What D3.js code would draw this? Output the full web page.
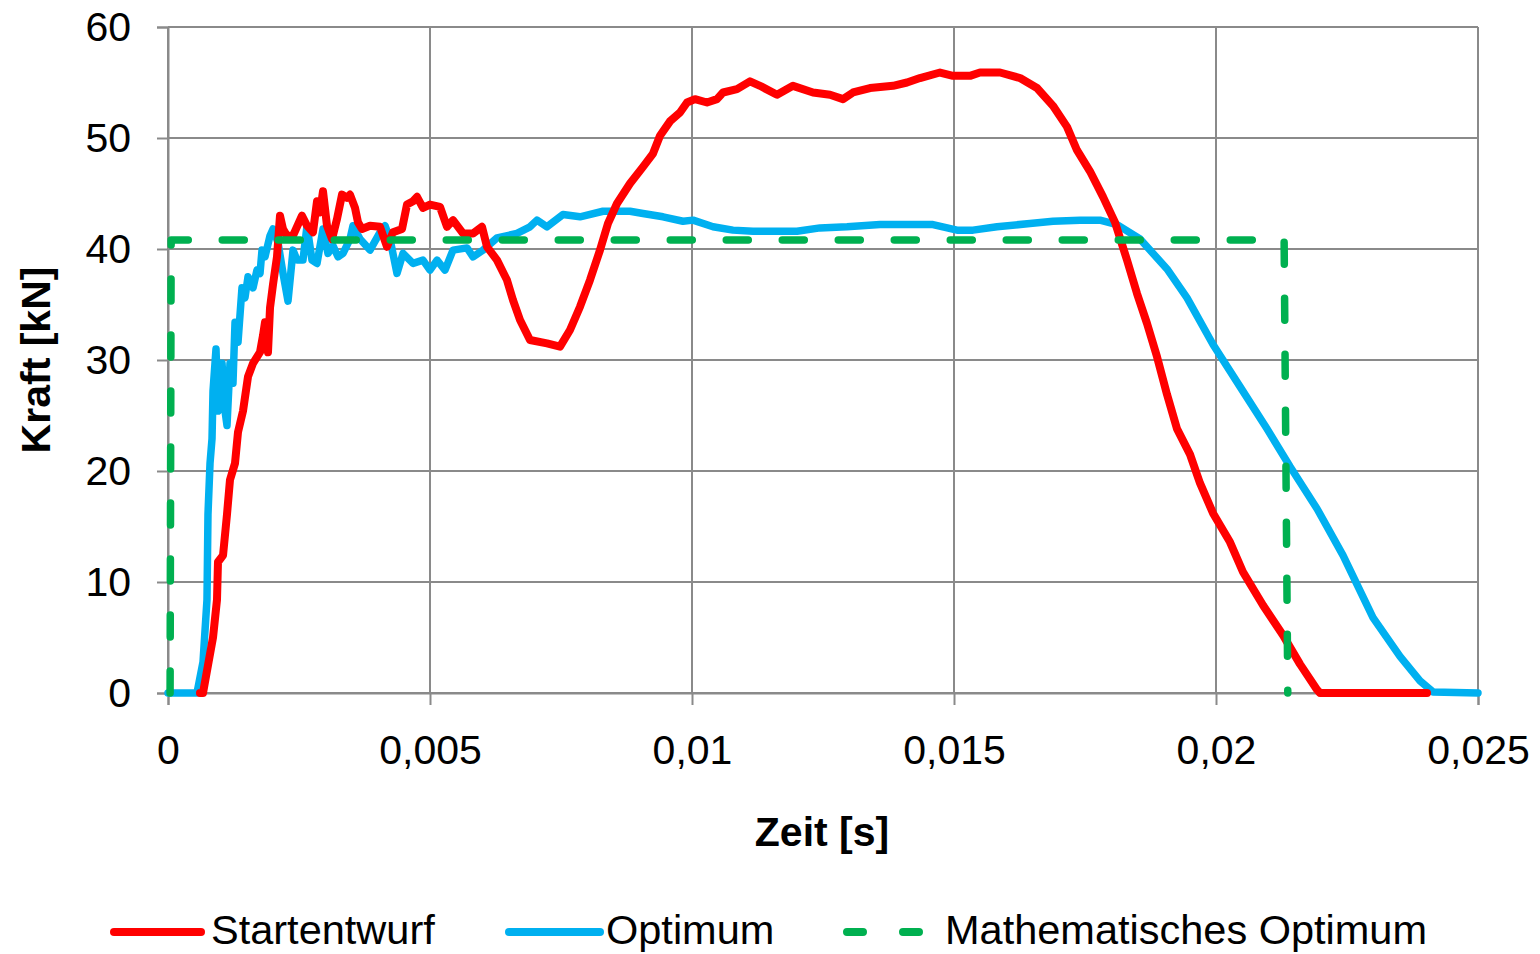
<!DOCTYPE html>
<html><head><meta charset="utf-8">
<script src="https://cdn.jsdelivr.net/npm/d3@7"></script>
<style>body{margin:0;background:#fff}svg{display:block}</style>
</head><body>
<svg id="chart" width="1540" height="954"></svg>
<script>
// ---- data ----
const xTicks = [0, 0.005, 0.01, 0.015, 0.02, 0.025];
const xTickLabels = ["0", "0,005", "0,01", "0,015", "0,02", "0,025"];
const yTicks = [0, 10, 20, 30, 40, 50, 60];
const yTickLabels = ["0", "10", "20", "30", "40", "50", "60"];
const seriesNames = ["Startentwurf", "Optimum", "Mathematisches Optimum"];

const timeStart = [0.00061,0.000668,0.000763,0.000859,0.000935,0.000954,0.00105,0.001126,0.001183,0.001279,0.001336,0.001431,0.001527,0.001622,0.001756,0.001813,0.001851,0.001908,0.001947,0.002004,0.00208,0.002137,0.002195,0.002271,0.002386,0.002557,0.002653,0.002767,0.002844,0.002901,0.002958,0.003034,0.00313,0.003225,0.003321,0.003416,0.003473,0.003569,0.003626,0.003702,0.003855,0.004046,0.004179,0.004294,0.004466,0.004561,0.004676,0.004752,0.004866,0.005,0.005191,0.005324,0.005439,0.00563,0.005821,0.005992,0.006088,0.006279,0.006469,0.006584,0.006718,0.006908,0.007233,0.007481,0.007672,0.007863,0.008053,0.008244,0.008397,0.008569,0.008817,0.009065,0.009256,0.009389,0.00958,0.009771,0.009905,0.010057,0.010286,0.010477,0.010592,0.010859,0.011107,0.011298,0.011622,0.011927,0.012309,0.012634,0.012882,0.013073,0.013397,0.013836,0.014103,0.014351,0.014733,0.014981,0.015305,0.015496,0.015878,0.01626,0.016584,0.016889,0.017157,0.017347,0.017595,0.017844,0.018073,0.018302,0.018492,0.018683,0.018874,0.019065,0.019256,0.019504,0.019695,0.019943,0.020267,0.020515,0.020897,0.021279,0.021603,0.021928,0.021985,0.024027];
const forceStart = [0,0,2.5,5.0,8.4,11.8,12.4,16.1,19.2,20.7,23.5,25.4,28.5,29.7,30.7,32.2,33.4,30.7,34.7,36.8,39.3,43.0,41.8,41.2,41.2,43.0,42.1,41.5,44.3,43.3,45.2,42.1,40.9,42.7,44.9,44.6,44.9,43.7,42.4,41.8,42.1,42.0,40.2,41.5,41.8,44.0,44.3,44.7,43.7,44.0,43.8,42.0,42.6,41.4,41.4,42.0,40.2,39.0,37.2,35.4,33.6,31.8,31.5,31.2,32.7,34.8,37.2,39.9,42.3,44.1,45.9,47.4,48.6,50.2,51.5,52.3,53.2,53.5,53.2,53.5,54.1,54.4,55.1,54.7,53.9,54.7,54.1,53.9,53.5,54.1,54.5,54.7,55.0,55.4,55.9,55.6,55.6,55.9,55.9,55.4,54.5,52.9,51.0,48.9,47.0,44.7,42.4,39.0,36.0,33.3,30.3,26.9,23.8,21.5,18.9,16.2,13.6,10.9,7.9,5.2,2.6,0.3,0,0];

const timeOpt = [0,0.000553,0.000668,0.000744,0.000763,0.000802,0.00084,0.000859,0.000916,0.000954,0.001031,0.001088,0.001126,0.001183,0.00124,0.001279,0.001336,0.001412,0.001469,0.001527,0.001622,0.001698,0.001756,0.001794,0.001851,0.001947,0.002004,0.002099,0.002195,0.00229,0.002386,0.002462,0.002576,0.002653,0.002748,0.002844,0.002958,0.003053,0.003149,0.003244,0.00334,0.003473,0.003531,0.003664,0.003855,0.004046,0.004141,0.004237,0.00437,0.004485,0.004676,0.004866,0.005,0.005134,0.005286,0.005439,0.005706,0.005821,0.006012,0.006279,0.00666,0.006908,0.007042,0.007233,0.007538,0.007863,0.008301,0.008817,0.009065,0.009447,0.009828,0.010019,0.010401,0.010782,0.011164,0.011546,0.012004,0.012443,0.012958,0.013588,0.014103,0.014599,0.015057,0.015363,0.015821,0.01645,0.016889,0.017405,0.017786,0.018111,0.01855,0.019065,0.019447,0.019943,0.020458,0.020973,0.021412,0.021928,0.022424,0.022996,0.023511,0.023893,0.024141,0.025];
const forceOpt = [0,0,2.8,8.4,16.1,20.7,22.9,27.2,31.0,25.4,29.7,25.4,24.1,29.7,27.9,33.4,31.6,36.5,35.6,37.5,36.5,38.1,37.8,39.9,39.3,41.2,41.8,40.6,37.8,35.3,39.9,39.0,39.0,42.1,39.0,38.7,41.8,39.6,40.3,39.3,39.6,40.9,42.1,40.9,39.9,41.5,42.1,40.9,37.8,39.6,38.7,39.0,38.1,39.0,38.1,39.9,40.1,39.3,39.9,41.0,41.4,42.0,42.6,42.0,43.1,42.9,43.4,43.4,43.2,42.9,42.5,42.6,42.0,41.7,41.6,41.6,41.6,41.9,42.0,42.2,42.2,42.2,41.7,41.7,42.0,42.3,42.5,42.6,42.6,42.2,40.9,38.2,35.6,31.4,27.6,23.8,20.4,16.6,12.4,6.8,3.3,1.1,0.1,0];

const timeMath = [0.00004, 0.00006, 0.0213, 0.02137];
const forceMath = [0, 40.8, 40.8, 0];

// ---- chart ----
const svg = d3.select("#chart");
const mLeft = 168, mRight = 1478, mTop = 27, mBottom = 693;
const x = d3.scaleLinear().domain([0, 0.025]).range([mLeft, mRight]);
const y = d3.scaleLinear().domain([0, 60]).range([mBottom, mTop]);
const font = "'Liberation Sans', Arial, sans-serif";
const gridCol = "#8a8a8a";

svg.append("rect").attr("width",1540).attr("height",954).attr("fill","#fff");

// gridlines
svg.append("g").selectAll("line").data(yTicks).join("line")
  .attr("x1", mLeft).attr("x2", mRight)
  .attr("y1", d => y(d)).attr("y2", d => y(d))
  .attr("stroke", gridCol).attr("stroke-width", 2);
svg.append("g").selectAll("line").data(xTicks).join("line")
  .attr("x1", d => x(d)).attr("x2", d => x(d))
  .attr("y1", mTop).attr("y2", mBottom)
  .attr("stroke", gridCol).attr("stroke-width", 2);

// axes
const yAxis = d3.axisLeft(y).tickValues(yTicks).tickFormat((d,i) => yTickLabels[i]).tickSize(11).tickPadding(26);
const xAxis = d3.axisBottom(x).tickValues(xTicks).tickFormat((d,i) => xTickLabels[i]).tickSize(12).tickPadding(30);
const gy = svg.append("g").attr("transform", `translate(${mLeft},0)`).call(yAxis);
const gx = svg.append("g").attr("transform", `translate(0,${mBottom})`).call(xAxis);
[gx, gy].forEach(g => {
  g.select(".domain").attr("stroke", gridCol).attr("stroke-width", 2);
  g.selectAll(".tick line").attr("stroke", gridCol).attr("stroke-width", 2);
  g.selectAll(".tick text").attr("fill", "#000").style("font-family", font).style("font-size", "41px");
});

// series
const line = d3.line().x(d => x(d[0])).y(d => y(d[1]));
const zipS = (t, f) => t.map((v, i) => [v, f[i]]);
svg.append("path").datum(zipS(timeOpt, forceOpt)).attr("d", line)
  .attr("fill","none").attr("stroke","#00b0f0").attr("stroke-width",7.5)
  .attr("stroke-linejoin","round").attr("stroke-linecap","round");
svg.append("path").datum(zipS(timeStart, forceStart)).attr("d", line)
  .attr("fill","none").attr("stroke","#ff0000").attr("stroke-width",8)
  .attr("stroke-linejoin","round").attr("stroke-linecap","round");
svg.append("path").datum(zipS(timeMath, forceMath)).attr("d", line)
  .attr("fill","none").attr("stroke","#00b050").attr("stroke-width",7.5)
  .attr("stroke-dasharray","22 34").attr("stroke-linecap","round").attr("stroke-linejoin","round");

// axis titles
svg.append("text").attr("x", 822).attr("y", 846).attr("text-anchor","middle")
  .style("font-family", font).style("font-size","41px").style("font-weight","bold").text("Zeit [s]");
svg.append("text").attr("transform","translate(50,360) rotate(-90)").attr("text-anchor","middle")
  .style("font-family", font).style("font-size","41px").style("font-weight","bold").text("Kraft [kN]");

// legend
const lg = svg.append("g");
const ly = 932;
const lfs = "41.5px";
lg.append("line").attr("x1",114).attr("x2",201).attr("y1",ly).attr("y2",ly)
  .attr("stroke","#ff0000").attr("stroke-width",8).attr("stroke-linecap","round");
lg.append("text").attr("x",211).attr("y",ly+12).style("font-family",font).style("font-size",lfs).text(seriesNames[0]);
lg.append("line").attr("x1",509).attr("x2",600).attr("y1",ly).attr("y2",ly)
  .attr("stroke","#00b0f0").attr("stroke-width",8).attr("stroke-linecap","round");
lg.append("text").attr("x",606).attr("y",ly+12).style("font-family",font).style("font-size",lfs).text(seriesNames[1]);
lg.append("line").attr("x1",847).attr("x2",924).attr("y1",ly).attr("y2",ly)
  .attr("stroke","#00b050").attr("stroke-width",8).attr("stroke-linecap","round").attr("stroke-dasharray","16 40");
lg.append("text").attr("x",945).attr("y",ly+12).style("font-family",font).style("font-size",lfs).text(seriesNames[2]);
</script>
</body></html>
